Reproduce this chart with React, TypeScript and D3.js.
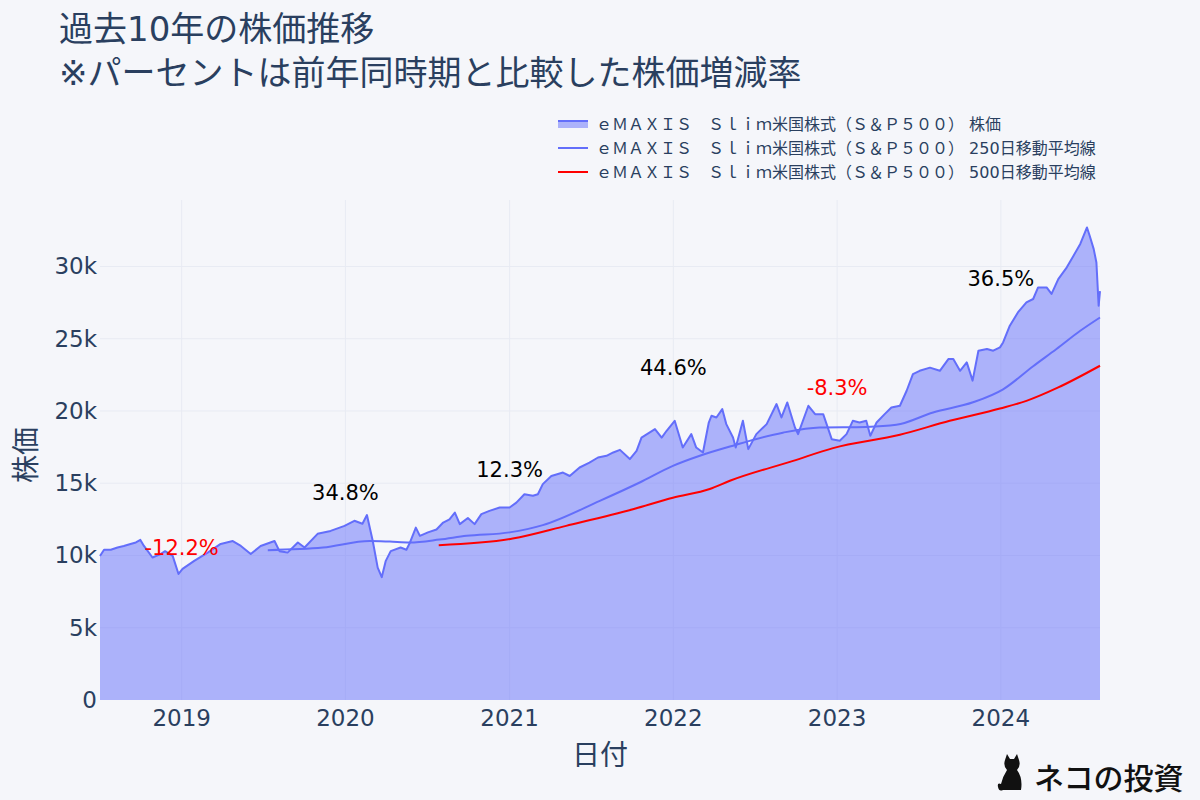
import { useEffect, useRef } from "react";
import * as d3 from "d3";

// 株価 (基準価額)
const priceDates = [
  "2018-07-03", "2018-07-12", "2018-07-27", "2018-08-11", "2018-08-25", "2018-09-09", "2018-09-21",
  "2018-10-01", "2018-10-09", "2018-10-28", "2018-11-15", "2018-11-25", "2018-12-12", "2018-12-25",
  "2019-01-03", "2019-01-29", "2019-02-28", "2019-03-29", "2019-04-25", "2019-05-13", "2019-06-04",
  "2019-06-26", "2019-07-27", "2019-08-07", "2019-08-25", "2019-09-17", "2019-10-02", "2019-10-31",
  "2019-11-29", "2019-12-30", "2020-01-21", "2020-02-08", "2020-02-18", "2020-03-02", "2020-03-13",
  "2020-03-22", "2020-03-31", "2020-04-11", "2020-05-03", "2020-05-16", "2020-05-24", "2020-06-06",
  "2020-06-15", "2020-07-03", "2020-07-22", "2020-08-06", "2020-08-20", "2020-09-01", "2020-09-12",
  "2020-09-30", "2020-10-15", "2020-10-30", "2020-11-17", "2020-12-10", "2021-01-01", "2021-01-16",
  "2021-02-03", "2021-02-22", "2021-03-05", "2021-03-16", "2021-04-04", "2021-04-30", "2021-05-15",
  "2021-06-06", "2021-06-28", "2021-07-17", "2021-08-05", "2021-08-20", "2021-09-04", "2021-09-26",
  "2021-10-11", "2021-10-22", "2021-11-21", "2021-12-06", "2021-12-17", "2022-01-04", "2022-01-22",
  "2022-02-10", "2022-02-21", "2022-03-08", "2022-03-21", "2022-03-27", "2022-04-07", "2022-04-20",
  "2022-04-29", "2022-05-14", "2022-05-20", "2022-06-05", "2022-06-17", "2022-07-05", "2022-07-28",
  "2022-08-19", "2022-08-30", "2022-09-12", "2022-09-29", "2022-10-06", "2022-10-29", "2022-11-13",
  "2022-12-01", "2022-12-20", "2023-01-07", "2023-01-22", "2023-02-05", "2023-02-20", "2023-03-07",
  "2023-03-16", "2023-03-30", "2023-04-17", "2023-05-02", "2023-05-21", "2023-06-05", "2023-06-19",
  "2023-07-04", "2023-07-27", "2023-08-18", "2023-09-06", "2023-09-17", "2023-10-02", "2023-10-17",
  "2023-10-30", "2023-11-12", "2023-12-01", "2023-12-15", "2023-12-30", "2024-01-06", "2024-01-21",
  "2024-02-08", "2024-02-27", "2024-03-13", "2024-03-24", "2024-04-12", "2024-04-23", "2024-05-08",
  "2024-05-27", "2024-06-11", "2024-06-26", "2024-07-11", "2024-07-17", "2024-07-26", "2024-08-01",
  "2024-08-06", "2024-08-09",
];
const priceValues = [
  9970, 10400, 10400, 10550, 10660, 10800, 10900,
  11080, 10660, 9860, 10100, 10300, 9970, 8720,
  9070, 9630, 10200, 10800, 11000, 10660, 10100,
  10660, 11000, 10300, 10200, 10900, 10550, 11500,
  11700, 12050, 12400, 12200, 12800, 11000, 9160,
  8500, 9630, 10300, 10550, 10400, 10900, 11930,
  11360, 11600, 11800, 12280, 12500, 12970, 12170,
  12600, 12170, 12860, 13090, 13320, 13320, 13660,
  14240, 14130, 14240, 14940, 15500, 15740, 15500,
  16090, 16430, 16780, 16900, 17130, 17310, 16670,
  17240, 18160, 18750, 18160, 18630, 19320, 17470,
  18400, 17470, 17130, 19200, 19670, 19550, 20130,
  19090, 18160, 17470, 19320, 17360, 18400, 19090,
  20480, 19550, 20590, 18860, 18400, 20360, 19780,
  19780, 18050, 17940, 18400, 19320, 19200, 19320,
  18280, 19200, 19780, 20240, 20360, 21400, 22550,
  22780, 23000, 22780, 23590, 23590, 22780, 23360,
  22100, 24170, 24290, 24170, 24400, 24740, 25900,
  26820, 27510, 27750, 28550, 28550, 28100, 29130,
  29940, 30750, 31560, 32700, 32130, 31200, 30280,
  27280, 28300,
];

// 250日移動平均線
const ma250Dates = [
  "2019-07-12", "2019-11-12", "2020-02-24", "2020-04-09", "2020-05-23", "2020-07-29", "2020-09-27",
  "2021-01-01", "2021-03-16", "2021-07-21", "2021-10-18", "2021-12-31", "2022-03-01", "2022-05-14",
  "2022-09-02", "2022-11-23", "2023-03-07", "2023-05-13", "2023-08-03", "2023-10-31", "2024-01-06",
  "2024-03-13", "2024-05-04", "2024-06-26", "2024-08-09",
];
const ma250Values = [
  10370, 10550, 11000, 10960, 10900, 11100, 11360,
  11600, 12100, 13780, 15050, 16200, 16900, 17600,
  18500, 18860, 18900, 19040, 19900, 20600, 21500,
  23100, 24290, 25550, 26470,
];

// 500日移動平均線
const ma500Dates = [
  "2020-07-27", "2021-01-08", "2021-05-07", "2021-10-03", "2021-12-31", "2022-03-23", "2022-05-07",
  "2022-09-25", "2022-12-23", "2023-05-21", "2023-09-09", "2023-12-30", "2024-02-27", "2024-05-08",
  "2024-08-09",
];
const ma500Values = [
  10710, 11170, 12050, 13200, 14000, 14600, 15170,
  16550, 17430, 18350, 19320, 20170, 20700, 21630,
  23130,
];

// 前年同時期比の注記
const annoDates = ["2019-01-01", "2020-01-01", "2021-01-01", "2022-01-01", "2023-01-01", "2024-01-01"];
const annoLabels = ["-12.2%", "34.8%", "12.3%", "44.6%", "-8.3%", "36.5%"];
const annoValues = [10500, 14300, 15900, 23000, 21600, 29100];

const yTicks = [0, 5000, 10000, 15000, 20000, 25000, 30000];
const xTickYears = [2019, 2020, 2021, 2022, 2023, 2024];

const legendLabels = [
  "ｅＭＡＸＩＳ　Ｓｌｉｍ米国株式（Ｓ＆Ｐ５００） 株価",
  "ｅＭＡＸＩＳ　Ｓｌｉｍ米国株式（Ｓ＆Ｐ５００） 250日移動平均線",
  "ｅＭＡＸＩＳ　Ｓｌｉｍ米国株式（Ｓ＆Ｐ５００） 500日移動平均線",
];

export default function App() {
  const svgRef = useRef<SVGSVGElement>(null);

  useEffect(() => {
    if (!svgRef.current) return;
    document.body.style.margin = "0";

    const width = 1200;
    const height = 800;
    const marginLeft = 100;
    const marginRight = 100;
    const marginTop = 200;
    const marginBottom = 100;

    const font = "'DejaVu Sans', 'Noto Sans CJK JP', sans-serif";
    const jpFont = "'Noto Sans CJK JP', sans-serif";
    const textColor = "#2a3f5f";
    const blue = "#636efa";

    const parse = d3.timeParse("%Y-%m-%d");
    const price = priceDates.map((d, i) => ({ date: parse(d) as Date, value: priceValues[i] }));
    const ma250 = ma250Dates.map((d, i) => ({ date: parse(d) as Date, value: ma250Values[i] }));
    const ma500 = ma500Dates.map((d, i) => ({ date: parse(d) as Date, value: ma500Values[i] }));

    const svg = d3.select(svgRef.current);
    svg.selectAll("*").remove();
    svg.attr("width", width).attr("height", height);

    svg.append("rect").attr("width", width).attr("height", height).attr("fill", "#f5f6fa");

    const x = d3.scaleTime()
      .domain([price[0].date, price[price.length - 1].date])
      .range([marginLeft, width - marginRight]);

    const y = d3.scaleLinear()
      .domain([0, 34600])
      .range([height - marginBottom, marginTop]);

    // Grid
    svg.append("g")
      .selectAll("line.ygrid")
      .data(yTicks.slice(1))
      .join("line")
      .attr("x1", marginLeft)
      .attr("x2", width - marginRight)
      .attr("y1", (d) => y(d))
      .attr("y2", (d) => y(d))
      .attr("stroke", "#e8ebf3")
      .attr("stroke-width", 1);

    svg.append("g")
      .selectAll("line.xgrid")
      .data(xTickYears)
      .join("line")
      .attr("x1", (d) => x(new Date(d, 0, 1)))
      .attr("x2", (d) => x(new Date(d, 0, 1)))
      .attr("y1", marginTop)
      .attr("y2", height - marginBottom)
      .attr("stroke", "#e8ebf3")
      .attr("stroke-width", 1);

    // Area (fill to zero)
    const area = d3.area<{ date: Date; value: number }>()
      .x((d) => x(d.date))
      .y0(y(0))
      .y1((d) => y(d.value));

    svg.append("path")
      .datum(price)
      .attr("d", area)
      .attr("fill", "rgba(99,110,250,0.5)");

    const line = d3.line<{ date: Date; value: number }>()
      .x((d) => x(d.date))
      .y((d) => y(d.value));

    svg.append("path")
      .datum(price)
      .attr("d", line)
      .attr("fill", "none")
      .attr("stroke", blue)
      .attr("stroke-width", 2)
      .attr("stroke-linejoin", "round");

    svg.append("path")
      .datum(ma250)
      .attr("d", line.curve(d3.curveMonotoneX))
      .attr("fill", "none")
      .attr("stroke", blue)
      .attr("stroke-width", 2);

    svg.append("path")
      .datum(ma500)
      .attr("d", line.curve(d3.curveMonotoneX))
      .attr("fill", "none")
      .attr("stroke", "red")
      .attr("stroke-width", 2);

    // Annotations
    svg.append("g")
      .selectAll("text")
      .data(annoDates)
      .join("text")
      .attr("x", (d) => x(parse(d) as Date))
      .attr("y", (_, i) => y(annoValues[i]))
      .attr("text-anchor", "middle")
      .attr("dominant-baseline", "central")
      .attr("font-family", font)
      .attr("font-size", 21)
      .attr("fill", (_, i) => (annoLabels[i].startsWith("-") ? "red" : "black"))
      .text((_, i) => annoLabels[i]);

    // Y axis labels
    svg.append("g")
      .selectAll("text")
      .data(yTicks)
      .join("text")
      .attr("x", marginLeft - 3)
      .attr("y", (d) => y(d))
      .attr("text-anchor", "end")
      .attr("dominant-baseline", "central")
      .attr("font-family", font)
      .attr("font-size", 23)
      .attr("fill", textColor)
      .text((d) => (d === 0 ? "0" : `${d / 1000}k`));

    // X axis labels
    svg.append("g")
      .selectAll("text")
      .data(xTickYears)
      .join("text")
      .attr("x", (d) => x(new Date(d, 0, 1)))
      .attr("y", height - marginBottom + 18)
      .attr("text-anchor", "middle")
      .attr("dominant-baseline", "central")
      .attr("font-family", font)
      .attr("font-size", 23)
      .attr("fill", textColor)
      .text((d) => d);

    // Axis titles
    svg.append("text")
      .attr("x", (marginLeft + width - marginRight) / 2)
      .attr("y", 753)
      .attr("text-anchor", "middle")
      .attr("dominant-baseline", "central")
      .attr("font-family", jpFont)
      .attr("font-size", 28)
      .attr("fill", textColor)
      .text("日付");

    svg.append("text")
      .attr("transform", `translate(24, ${(marginTop + height - marginBottom) / 2 + 5}) rotate(-90)`)
      .attr("text-anchor", "middle")
      .attr("dominant-baseline", "central")
      .attr("font-family", jpFont)
      .attr("font-size", 28)
      .attr("fill", textColor)
      .text("株価");

    // Title
    svg.append("text")
      .attr("x", 59).attr("y", 41)
      .attr("font-family", font)
      .attr("font-size", 34)
      .attr("fill", textColor)
      .text("過去10年の株価推移");
    svg.append("text")
      .attr("x", 59).attr("y", 85)
      .attr("font-family", font)
      .attr("font-size", 34)
      .attr("fill", textColor)
      .text("※パーセントは前年同時期と比較した株価増減率");

    // Legend
    const legend = svg.append("g");
    const rowY = [124, 148, 172];
    legendLabels.forEach((label, i) => {
      const cy = rowY[i];
      if (i === 0) {
        legend.append("rect")
          .attr("x", 558).attr("y", cy - 3).attr("width", 30).attr("height", 7)
          .attr("fill", "rgba(99,110,250,0.5)");
        legend.append("line")
          .attr("x1", 558).attr("x2", 588).attr("y1", cy - 3).attr("y2", cy - 3)
          .attr("stroke", blue).attr("stroke-width", 2);
      } else {
        legend.append("line")
          .attr("x1", 558).attr("x2", 588).attr("y1", cy).attr("y2", cy)
          .attr("stroke", i === 1 ? blue : "red").attr("stroke-width", 2);
      }
      legend.append("text")
        .attr("x", 596)
        .attr("y", cy)
        .attr("dominant-baseline", "central")
        .attr("font-family", font)
        .attr("font-size", 16)
        .attr("fill", textColor)
        .text(label);
    });

    // Watermark
    const mark = svg.append("g").attr("transform", "translate(997, 754)");
    mark.append("path")
      .attr("d", "M8,6 L10,0 L13,5 L17,5 L20,0 L22,6 Q24,12 20,16 Q26,24 24,36 L6,36 Q2,38 1,33 Q0,28 4,30 Q6,22 10,16 Q6,12 8,6 Z")
      .attr("fill", "#111");
    mark.append("text")
      .attr("x", 37)
      .attr("y", 22)
      .attr("dominant-baseline", "central")
      .attr("font-family", jpFont)
      .attr("font-size", 30)
      .attr("font-weight", 500)
      .attr("fill", "#111")
      .text("ネコの投資");
  }, []);

  return <svg ref={svgRef} style={{ display: "block" }} />;
}
